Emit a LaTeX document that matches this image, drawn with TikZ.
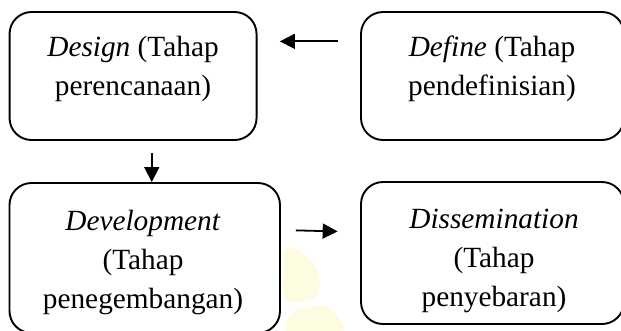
\documentclass[tikz,border=0pt]{standalone}
\usepackage{fontspec}
\setmainfont{Liberation Serif}
\usetikzlibrary{arrows.meta,calc}
\definecolor{wmark}{RGB}{253,252,224}
\begin{document}
\begin{tikzpicture}[x=1pt,y=-1pt,
  box/.style={draw,line width=1.9pt,rounded corners=22pt,inner sep=0pt},
  lbl/.style={anchor=base,inner sep=0pt,font=\fontsize{29.3}{39}\selectfont},
  arr/.style={line width=1.8pt,-{Triangle[length=15pt,width=15pt]}}]
\useasboundingbox (0,0) rectangle (621,330);
\clip (0,0) rectangle (621,330);
% faint watermark behind the lower arrow
\fill[wmark,rounded corners=12pt] (282,302) -- (284,244) -- (302,250) -- (322,276) -- (316,302) -- cycle;
\fill[wmark,rounded corners=10pt] (282,334) -- (292,310) -- (330,304) -- (348,334) -- cycle;
% stage boxes
\node[box,minimum width=247pt,minimum height=128pt] (des) at (133.05,76) {};
\node[box,minimum width=263pt,minimum height=128pt] (def) at (492.5,76) {};
\node[box,minimum width=270.5pt,minimum height=150pt] (dev) at (144.75,258) {};
\node[box,minimum width=263pt,minimum height=142pt] (dis) at (492.5,253) {};
% stage labels
\node[lbl] (desT) at (133,56.7) {\begin{tabular}[t]{@{}c@{}}\textit{Design} (Tahap\\perencanaan)\end{tabular}};
\node[lbl] (defT) at (492,56.7) {\begin{tabular}[t]{@{}c@{}}\textit{Define} (Tahap\\pendefinisian)\end{tabular}};
\node[lbl] (devT) at (143,230) {\begin{tabular}[t]{@{}c@{}}\textit{Development}\\(Tahap\\penegembangan)\end{tabular}};
\node[lbl] (disT) at (494,228) {\begin{tabular}[t]{@{}c@{}}\textit{Dissemination}\\(Tahap\\penyebaran)\end{tabular}};
% connectors
\draw[arr,shorten <=22.4pt,shorten >=22.4pt] ($(def.north west)+(0,30.3)$) -- ($(des.north east)+(0,30.3)$);
\draw[arr,shorten <=11.7pt] ($(des.south)+(18.7,0)$) coordinate (a) -- (a |- dev.north);
\draw[arr,shorten <=15pt,shorten >=22.4pt] ($(dev.east)+(0,-28)$) -- ($(dis.west)+(0,-21)$);
\end{tikzpicture}
\end{document}
